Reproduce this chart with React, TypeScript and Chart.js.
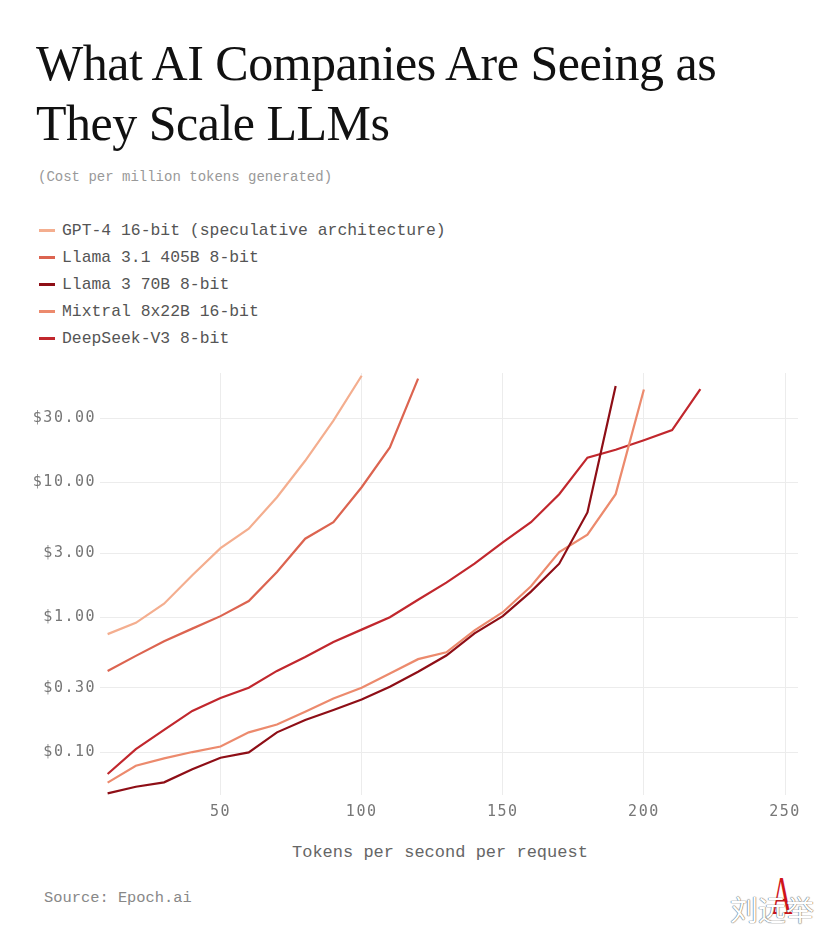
import React, { useEffect, useRef } from "react";
import { Chart, registerables } from "chart.js";

Chart.register(...registerables);

// ---- data ----
const tokensPerSecond = [10, 20, 30, 40, 50, 60, 70, 80, 90, 100, 110, 120, 130, 140, 150, 160, 170, 180, 190, 200, 210, 220];

const seriesNames = [
  "GPT-4 16-bit (speculative architecture)",
  "Llama 3.1 405B 8-bit",
  "Llama 3 70B 8-bit",
  "Mixtral 8x22B 16-bit",
  "DeepSeek-V3 8-bit",
];

const gpt4Cost = [0.75, 0.91, 1.26, 2.05, 3.26, 4.54, 7.78, 14.5, 28.8, 62];
const llama31Cost = [0.4, 0.517, 0.664, 0.824, 1.02, 1.32, 2.17, 3.83, 5.08, 9.23, 18.2, 59];
const llama3Cost = [0.0494, 0.0553, 0.0596, 0.0744, 0.0908, 0.0995, 0.14, 0.173, 0.205, 0.245, 0.305, 0.394, 0.52, 0.76, 1.02, 1.55, 2.5, 6.0, 52];
const mixtralCost = [0.0593, 0.0792, 0.0898, 0.1, 0.11, 0.14, 0.16, 0.199, 0.25, 0.3, 0.383, 0.489, 0.55, 0.8, 1.09, 1.7, 3.05, 4.1, 8.2, 49];
const deepseekCost = [0.0687, 0.105, 0.146, 0.202, 0.252, 0.3, 0.4, 0.508, 0.656, 0.81, 1.0, 1.35, 1.81, 2.5, 3.6, 5.08, 8.2, 15.3, 17.5, 20.6, 24.5, 49.4];

const seriesColors = ["#f4ae8f", "#dc6450", "#8e0e16", "#ec8a6d", "#c1272d"];

const xTickValues = [50, 100, 150, 200, 250];
const yTickValues = [0.1, 0.3, 1, 3, 10, 30];

const allSeries = [gpt4Cost, llama31Cost, llama3Cost, mixtralCost, deepseekCost];

const MONO = "'Liberation Mono', 'DejaVu Sans Mono', monospace";

export default function App() {
  const canvasRef = useRef<HTMLCanvasElement>(null);

  useEffect(() => {
    const canvas = canvasRef.current;
    if (!canvas) return;

    const spacingPlugin = {
      id: "tickLetterSpacing",
      beforeDraw(chart: any) {
        try {
          chart.ctx.letterSpacing = "1.5px";
        } catch (e) {}
      },
    };

    const chart = new Chart(canvas, {
      type: "line",
      data: {
        datasets: allSeries.map((vals, k) => ({
          label: seriesNames[k],
          data: vals.map((v, i) => ({ x: tokensPerSecond[i], y: v })),
          borderColor: seriesColors[k],
          backgroundColor: seriesColors[k],
          borderWidth: 2.2,
          pointRadius: 0,
          pointHoverRadius: 0,
          tension: 0,
          fill: false,
        })),
      },
      options: {
        animation: false,
        responsive: false,
        events: [],
        layout: { padding: { top: 12, right: 40, left: 0, bottom: 0 } },
        plugins: {
          legend: { display: false },
          tooltip: { enabled: false },
          title: { display: false },
        },
        scales: {
          x: {
            type: "linear",
            min: 7.3,
            max: 254.6,
            afterBuildTicks: (scale: any) => {
              scale.ticks = xTickValues.map((v) => ({ value: v }));
            },
            afterFit: (scale: any) => {
              scale.height = 35;
            },
            ticks: {
              color: "#777777",
              font: { family: "'DejaVu Sans Mono', monospace", size: 15 },
              padding: 8,
              maxRotation: 0,
              callback: (v: any) => String(v),
            },
            grid: { color: "#ececec", lineWidth: 1, drawTicks: false },
            border: { display: false },
          },
          y: {
            type: "logarithmic",
            min: 0.048,
            max: 65,
            afterBuildTicks: (scale: any) => {
              scale.ticks = yTickValues.map((v) => ({ value: v }));
            },
            afterFit: (scale: any) => {
              scale.width = 100;
            },
            ticks: {
              color: "#777777",
              font: { family: "'DejaVu Sans Mono', monospace", size: 15 },
              padding: 4,
              callback: (v: any) => "$" + Number(v).toFixed(2),
            },
            grid: { color: "#ececec", lineWidth: 1, drawTicks: false },
            border: { display: false },
          },
        },
      },
      plugins: [spacingPlugin],
    } as any);

    return () => chart.destroy();
  }, []);

  return (
    <div
      style={{
        position: "absolute",
        left: 0,
        top: 0,
        width: 838,
        height: 943,
        background: "#ffffff",
        overflow: "hidden",
      }}
    >
      <div
        style={{
          position: "absolute",
          left: 36,
          top: 33,
          fontFamily: "'Liberation Serif', 'DejaVu Serif', serif",
          fontSize: 50,
          lineHeight: "60px",
          color: "#111",
          whiteSpace: "nowrap",
          letterSpacing: "-0.5px",
        }}
      >
        What AI Companies Are Seeing as
        <br />
        They Scale LLMs
      </div>

      <div
        style={{
          position: "absolute",
          left: 38,
          top: 169,
          fontFamily: MONO,
          fontSize: 14,
          lineHeight: "16px",
          color: "#999",
          whiteSpace: "nowrap",
        }}
      >
        (Cost per million tokens generated)
      </div>

      <div style={{ position: "absolute", left: 39, top: 217 }}>
        {seriesNames.map((name, k) => (
          <div
            key={name}
            style={{
              display: "flex",
              alignItems: "center",
              height: 27,
              whiteSpace: "nowrap",
            }}
          >
            <span
              style={{
                display: "inline-block",
                width: 16,
                height: 3,
                background: seriesColors[k],
                marginRight: 7,
              }}
            />
            <span
              style={{
                fontFamily: MONO,
                fontSize: 16.4,
                color: "#555",
              }}
            >
              {name}
            </span>
          </div>
        ))}
      </div>

      <canvas
        ref={canvasRef}
        width={838}
        height={470}
        style={{ position: "absolute", left: 0, top: 360, width: 838, height: 470 }}
      />

      <div
        style={{
          position: "absolute",
          left: 292,
          top: 843,
          fontFamily: MONO,
          fontSize: 17,
          lineHeight: "20px",
          color: "#666",
          whiteSpace: "nowrap",
        }}
      >
        Tokens per second per request
      </div>

      <div
        style={{
          position: "absolute",
          left: 44,
          top: 889,
          fontFamily: MONO,
          fontSize: 15.4,
          lineHeight: "18px",
          color: "#888",
          whiteSpace: "nowrap",
        }}
      >
        Source: Epoch.ai
      </div>

      <div
        style={{
          position: "absolute",
          left: 771,
          top: 866,
          fontFamily: "'Liberation Serif', serif",
          fontSize: 54,
          lineHeight: "60px",
          color: "#d0141a",
          transform: "scaleX(0.55)",
          transformOrigin: "left top",
        }}
      >
        A
      </div>
      <div
        style={{
          position: "absolute",
          left: 730,
          top: 892,
          fontFamily: "'Noto Sans CJK SC', sans-serif",
          fontSize: 28,
          lineHeight: "34px",
          color: "#ffffff",
          textShadow: "0 0 1px #555, 0 0 1px #555",
          whiteSpace: "nowrap",
        }}
      >
        刘远举
      </div>
    </div>
  );
}
